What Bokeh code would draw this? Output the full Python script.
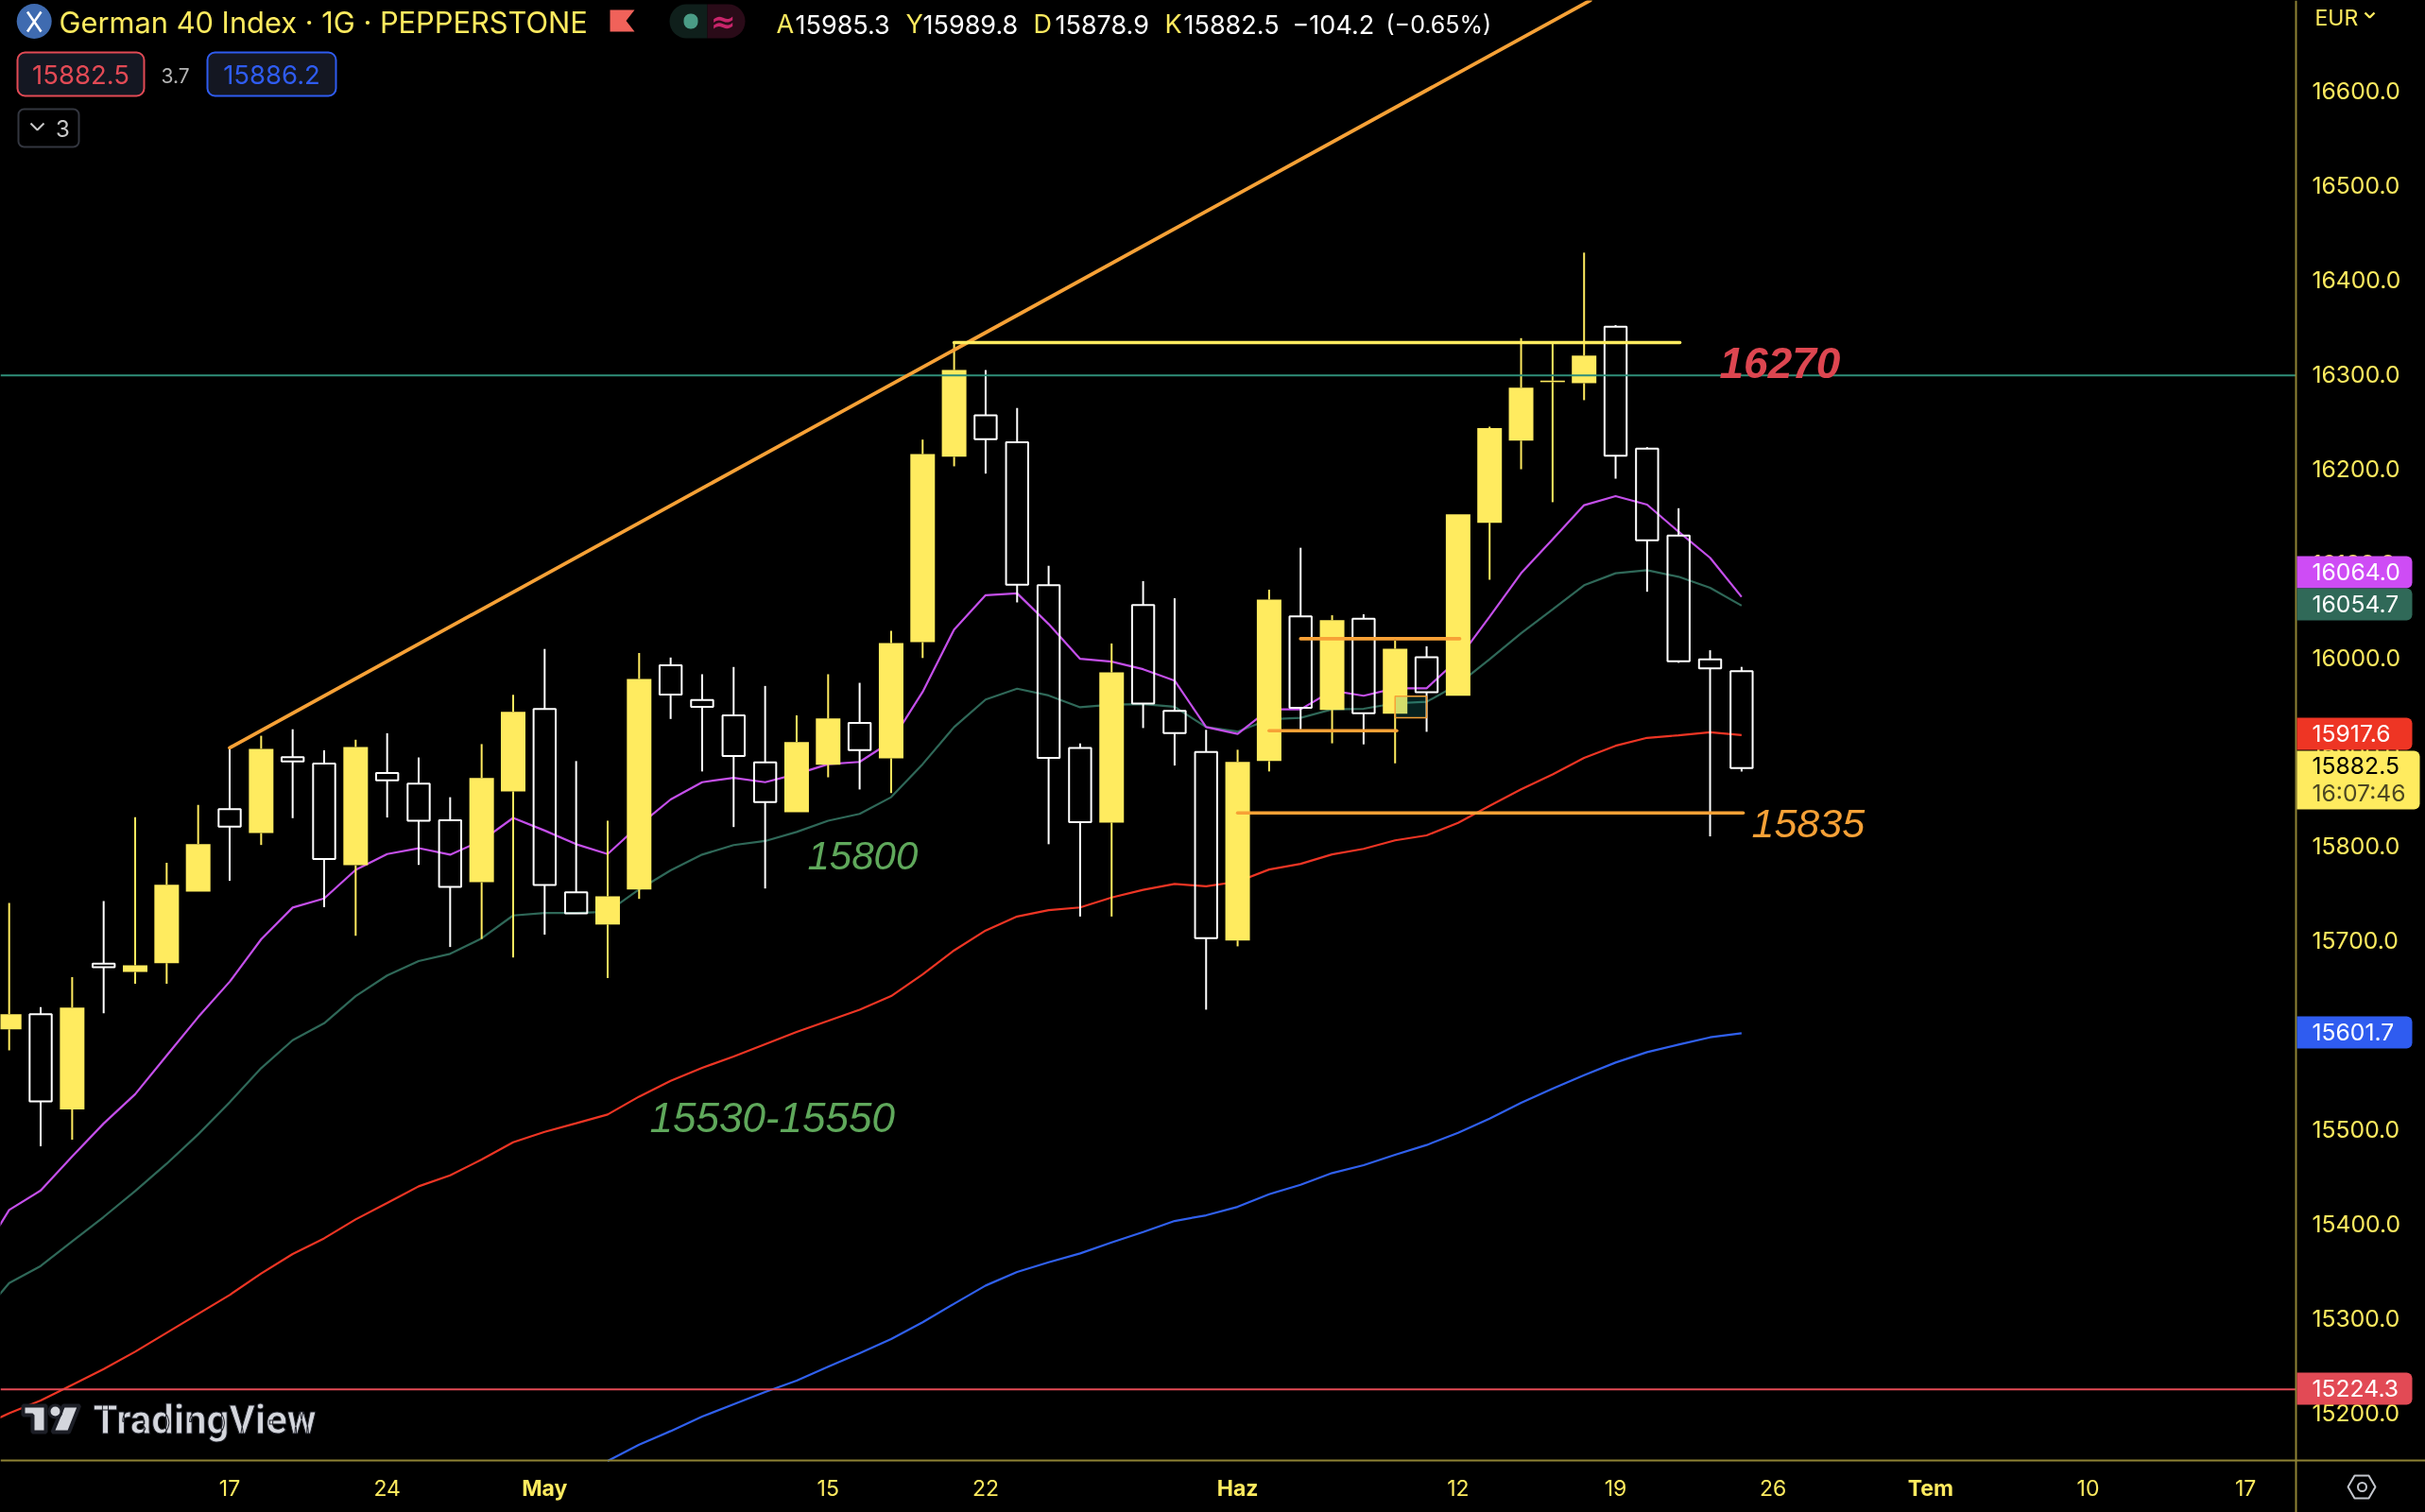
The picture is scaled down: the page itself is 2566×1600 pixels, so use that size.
from bokeh.plotting import figure
from bokeh.models import Range1d, LinearAxis, FixedTicker, NumeralTickFormatter
from bokeh.core.properties import value
from bokeh.embed import file_html
from bokeh.resources import INLINE

# ---------- data ----------
wick_high = [15739.8,15629.4,15661.2,15741.7,15830.6,15782.3,15843.6,15904.2,15916.8,15923.7,
             15901.5,15912.6,15919.5,15893.8,15851.7,15908.0,15960.2,16008.8,15890.0,15826.8,
             16004.5,15999.7,15982.0,15989.7,15969.6,15938.4,15982.0,15972.9,16028.0,16230.6,
             16333.0,16304.3,16264.1,16096.9,15908.7,16014.6,16080.7,16062.5,15923.1,15902.0,
             16071.6,16116.0,16044.5,16045.5,16017.5,16011.6,16151.5,16244.3,16338.1,16333.3,
             16428.7,16351.9,16222.6,16157.9,16007.4,15989.8]
body_top = [15621.8,15621.8,15628.7,15675.4,15673.5,15758.9,15801.9,15839.0,15903.0,15894.2,
            15887.3,15904.9,15877.4,15866.2,15827.2,15872.0,15942.1,15945.2,15750.9,15746.7,
            15977.0,15991.6,15954.7,15938.4,15888.6,15910.2,15935.1,15930.3,16015.0,16215.2,
            16304.3,16256.4,16227.7,16076.3,15903.9,15983.9,16055.3,15943.2,15899.6,15889.1,
            16061.0,16043.4,16039.2,16040.8,16009.0,16000.0,16151.5,16242.7,16285.6,16293.1,
            16319.6,16350.3,16221.0,16128.8,15997.8,15985.3]
body_bottom = [15605.7,15529.4,15521.0,15671.6,15666.6,15675.8,15751.7,15820.6,15813.7,15889.6,
               15786.2,15779.6,15869.7,15826.8,15756.6,15761.6,15857.8,15758.6,15728.7,15716.8,
               15754.0,15960.4,15947.5,15895.3,15846.5,15835.9,15886.2,15901.6,15892.9,16016.0,
               16212.4,16231.0,16076.8,15893.4,15825.4,15824.9,15950.9,15919.7,15702.3,15699.9,
               15890.0,15946.4,15944.3,15940.6,15940.1,15962.9,15959.2,16142.5,16229.5,16291.5,
               16290.4,16213.6,16124.0,15995.7,15988.3,15882.5]
wick_low = [15583.4,15481.9,15488.8,15622.9,15654.0,15654.0,15751.7,15763.2,15801.1,15829.5,
            15735.2,15704.9,15830.2,15780.0,15693.0,15701.5,15681.9,15706.1,15728.7,15660.1,
            15744.0,15934.6,15879.0,15820.1,15755.0,15835.9,15872.8,15859.9,15856.1,15999.2,
            16202.3,16194.6,16058.1,15801.9,15725.3,15725.3,15925.0,15885.3,15626.6,15693.7,
            15879.0,15923.7,15908.8,15907.7,15887.6,15921.0,15959.2,16082.1,16199.2,16164.3,
            16272.4,16189.2,16069.4,15994.1,15810.2,15878.9]
rising_bars = [0,2,4,5,6,8,11,15,16,19,20,25,26,28,29,30,35,39,40,42,44,46,47,48,49,50]

# moving averages, first value belongs to the bar before the first one
ma_purple = [15360,15414.4,15435,15471,15506,15537,15578,15618.7,15656.2,15701.1,15734.8,15744.4,
             15774.7,15791.5,15797.7,15790.8,15805.7,15829.8,15816.4,15801.9,15791.5,15822,15849.3,
             15867.6,15872.3,15867.6,15876.2,15886.7,15889.1,15910.6,15963.3,16029.4,16065.8,16067.7,
             16035.2,15998.3,15995.4,15987.3,15975.3,15926,15918.8,15944.8,15944.8,15964.5,15959.2,
             15967.1,15967.1,15997.8,16042.9,16089,16125,16161.1,16170.7,16161.7,16133,16105.4,16064.0]
ma_green = [15297,15337,15355,15381,15407,15434.4,15463.4,15494.5,15528.5,15564.6,15594.2,15612.2,
            15640.9,15662.8,15678.1,15685.8,15702.2,15726.4,15729.1,15729.1,15730.2,15754,15774.2,
            15790.9,15801,15805.3,15814.9,15826.8,15834,15851.7,15886.7,15926,15955.2,15966.7,
            15959.5,15947,15949.9,15950.4,15947.5,15926,15921.2,15934.2,15935.8,15944.8,15945.4,
            15951.2,15952.8,15971.3,15997.8,16025.4,16050.8,16076.3,16089,16092.2,16085.3,16073.6,16054.7]
ma_red = [15183,15199.1,15212.5,15229.1,15245.8,15264.2,15284.2,15304.2,15324.3,15347,15367.7,15384.3,
          15404.4,15421.7,15439.4,15451.1,15467.8,15486.1,15497.1,15506.2,15515.5,15534.5,15551.2,
          15565,15577,15590,15603,15614.7,15626.6,15641,15664,15689.4,15710.5,15725.3,15732,15734.9,
          15745.4,15753.6,15759.8,15757.4,15762.2,15775.1,15781.1,15791.1,15797,15806,15811.3,15824.5,
          15842.6,15860,15875.9,15893.4,15906.2,15914.6,15917.3,15920.5,15917.6]
ma_blue_first_bar = 19
ma_blue = [15148.4,15165.8,15180.1,15195.5,15208.5,15221.5,15233.5,15248.2,15262.5,15277.6,15295.3,
           15315,15334.3,15348.7,15359,15368.3,15380,15391,15402.7,15408.7,15417.7,15431.1,15441.1,
           15453.5,15461.8,15472.8,15483.2,15496.2,15511.2,15527.9,15542.9,15557.3,15570.6,15581.6,
           15589.6,15597.3,15601.7]

price_ticks = [15200,15300,15400,15500,15600,15700,15800,15900,16000,16100,16200,16300,16400,16500,16600]
day_ticks = {7:"17",12:"24",26:"15",31:"22",46:"12",51:"19",56:"26",66:"10",71:"17"}
month_ticks = {17:"May",39:"Haz",61:"Tem"}

level_teal = 16298.5
level_red = 15224.3
top_line = 16333.4
trend_start = (7, 15904)
trend_end = (50.2, 16696)
orange_levels = [(41,46.05,16019.6),(40,44.05,15922.1),(39,55.05,15835)]
small_box = (44,45,15935.8,15958.6)

# ---------- colours ----------
BG="#000000"; YEL="#FFEB5F"; WHT="#FFFFFF"; AXC="#8F8335"; ORG="#F7A136"
PUR="#C44FEA"; GRN="#2F6858"; RED="#EE3524"; BLU="#3060EE"; TEAL="#2F8F7A"; LRED="#E24A55"

# ---------- scales: one bar = 33.33 px, one price unit = 0.99875 px ----------
W,H = 2566,1600
def X(px): return (px-9.2)/33.33
def Y(py): return 16000-(py-695)*1.00125

p = figure(width=W,height=H,x_range=Range1d(X(0),X(W)),y_range=Range1d(Y(H),Y(0)),
           x_axis_type=None,y_axis_type=None,toolbar_location=None,output_backend="svg",
           background_fill_color=BG,border_fill_color=BG,outline_line_color=None,min_border=0)
p.grid.visible=False
p.styles={"position":"fixed","left":"0px","top":"0px","background-color":"#000000","box-shadow":"0 0 0 10px #000000"}

n=len(wick_high)
idx=list(range(n))
up=[i in rising_bars for i in idx]

# moving averages
ma_x=list(range(-1,n))
p.line(ma_x,ma_red,line_color=RED,line_width=2.2)
p.line(list(range(ma_blue_first_bar,n)),ma_blue,line_color=BLU,line_width=2.2)
p.line(ma_x,ma_green,line_color=GRN,line_width=2.2)
p.line(ma_x,ma_purple,line_color=PUR,line_width=2.2)

# candles
HW_F=13/33.33; HW_H=11.7/33.33
for flag,col in ((True,YEL),(False,WHT)):
    s=[i for i in idx if up[i]==flag]
    p.segment([i for i in s],[wick_high[i] for i in s],[i for i in s],[body_top[i] for i in s],line_color=col,line_width=2)
    p.segment([i for i in s],[body_bottom[i] for i in s],[i for i in s],[wick_low[i] for i in s],line_color=col,line_width=2)
s=[i for i in idx if up[i]]
p.quad(left=[i-HW_F for i in s],right=[i+HW_F for i in s],top=[body_top[i] for i in s],bottom=[body_bottom[i] for i in s],
       fill_color=YEL,line_color=None)
s=[i for i in idx if not up[i]]
p.quad(left=[i-HW_H for i in s],right=[i+HW_H for i in s],top=[body_top[i] for i in s],bottom=[body_bottom[i] for i in s],
       fill_color=None,line_color=WHT,line_width=2)

# drawings
p.segment([X(0)],[level_teal],[X(2429)],[level_teal],line_color=TEAL,line_width=2)
p.segment([X(0)],[level_red],[X(2429)],[level_red],line_color=LRED,line_width=2)
p.line([trend_start[0],trend_end[0]],[trend_start[1],trend_end[1]],line_color=ORG,line_width=3.8,line_cap="round")
p.segment([30],[top_line],[53.04],[top_line],line_color=YEL,line_width=3.6,line_cap="round")
p.segment([a for a,b,c in orange_levels],[c for a,b,c in orange_levels],[b for a,b,c in orange_levels],[c for a,b,c in orange_levels],
          line_color=ORG,line_width=3.6,line_cap="round")
p.quad(left=[small_box[0]],right=[small_box[1]],bottom=[small_box[2]],top=[small_box[3]],
       fill_color="#1FA39A",fill_alpha=0.2,line_color=ORG,line_width=1.5)

def ann(px,py,t,col,size,style="italic",font="Liberation Sans"):
    p.text([X(px)],[Y(py)],text=[t],text_color=col,text_font=value(font),text_font_size=f"{size}px",
           text_font_style=style,text_align="left",text_baseline="middle")
ann(1819,383,"16270","#DD4650",46,"bold italic")
ann(1853,871,"15835",ORG,43)
ann(854,905,"15800","#5FA85B",42)
ann(687,1182,"15530-15550","#5FA85B",44)

# ---------- axes ----------
AF="Inter"
ya=LinearAxis(fixed_location=X(2429),ticker=FixedTicker(ticks=price_ticks,minor_ticks=[]),
              formatter=NumeralTickFormatter(format="0.0"),major_tick_line_color=None,minor_tick_line_color=None,
              axis_line_color=AXC,axis_line_width=2,major_label_text_color=YEL,major_label_text_font=AF,
              major_label_text_font_size="24.7px",major_label_standoff=11)
p.add_layout(ya,"right")
xa=LinearAxis(fixed_location=Y(1545),ticker=FixedTicker(ticks=list(day_ticks),minor_ticks=[]),
              major_label_overrides=day_ticks,major_tick_line_color=None,minor_tick_line_color=None,
              axis_line_color=AXC,axis_line_width=2,major_label_text_color=YEL,major_label_text_font=AF,
              major_label_text_font_size="23px",major_label_standoff=14)
p.add_layout(xa,"below")
xm=LinearAxis(fixed_location=Y(1545),ticker=FixedTicker(ticks=list(month_ticks),minor_ticks=[]),
              major_label_overrides=month_ticks,major_tick_line_color=None,minor_tick_line_color=None,
              axis_line_color=None,major_label_text_color=YEL,major_label_text_font=AF,major_label_text_font_style="bold",
              major_label_text_font_size="23px",major_label_standoff=9)
p.add_layout(xm,"below")

# ---------- price tags over the axis ----------
def rrect(x0,x1,y0,y1,fill,line=None,lw=2,r=0):
    p.quad(left=[X(x0)],right=[X(x1)],top=[Y(y0)],bottom=[Y(y1)],fill_color=fill,line_color=line,line_width=lw,
           border_radius=r,level="overlay")
def txt(px,py,t,col,size,align="left",style="normal",font=AF,**kw):
    p.text([X(px)],[Y(py)],text=[t],text_color=col,text_font=value(font),text_font_size=f"{size}px",
           text_font_style=style,text_align=align,text_baseline="middle",level="overlay",**kw)
def poly(points,col,lw=2):
    p.line([X(a) for a,b in points],[Y(b) for a,b in points],line_color=col,line_width=lw,level="overlay")
def shape(points,fill,line=None,lw=2):
    p.patch([X(a) for a,b in points],[Y(b) for a,b in points],fill_color=fill,line_color=line,line_width=lw,level="overlay")

tags=[("16064.0",588,622,"#CE4CF5"),("16054.7",622,656,"#306958"),("15917.6",759,793,"#EE3524"),
      ("15601.7",1075,1109,"#2F5CF0"),("15224.3",1452,1486,LRED)]
for t,a,b,c in tags:
    rrect(2430,2552,a,b,c,r=(0,6,6,0))
    txt(2446,(a+b)/2-1,t,WHT,24.7)
rrect(2430,2560,794,856,YEL,r=(0,6,6,0))
txt(2446,809,"15882.5","#000000",24.7)
txt(2446,838,"16:07:46","#4C4722",24.7)

# ---------- header ----------
p.scatter([X(35.7)],[Y(22)],size=37,marker="circle",fill_color="#3F6BB0",line_color=None,level="overlay")
p.segment([X(28.5),X(43)],[Y(12),Y(12)],[X(43),X(28.5)],[Y(33),Y(33)],line_color=WHT,line_width=2.6,level="overlay")
txt(62,23,"German 40 Index · 1G · PEPPERSTONE",YEL,30.8)
shape([(645,10),(671,10),(662,21.5),(671,33),(645,33)],"#F0625A")
rrect(708,748,4,40,"#0F1F1B",r=(18,0,0,18))
rrect(748,788,4,40,"#2A0B18",r=(0,18,18,0))
rrect(723,738,14,30,"#4A9C86",r=7)
txt(765,22,"≈","#C7256A",32,"center",style="bold",font="DejaVu Sans")
for x,t,c,s_ in [(821,"A",YEL,27),(841,"15985.3",WHT,27),(958,"Y",YEL,27),(976,"15989.8",WHT,27),(1093,"D",YEL,27),(1116,"15878.9",WHT,27),
                 (1232,"K",YEL,27),(1252,"15882.5",WHT,27),(1367,"−104.2",WHT,27),(1466,"(−0.65%)",WHT,25)]:
    txt(x,25,t,c,s_)
rrect(18,152,55,101,"#141722",LRED,2,8)
txt(85,78,"15882.5",LRED,27.5,"center")
txt(185,79,"3.7","#B4B4B4",21,"center")
rrect(219,355,55,101,"#141722","#2F5CF0",2,8)
txt(287,78,"15886.2","#2F5CF0",27.5,"center")
rrect(19,83,115,155,"#000000","#33363F",2,6)
poly([(32,130),(39,137),(46,130)],"#C8C8C8",2)
txt(66,135,"3","#C8C8C8",24,"center")
txt(2449,18,"EUR",YEL,23)
poly([(2502,13),(2507,18),(2512,13)],YEL,2.4)

# ---------- watermark ----------
HALO="#1C1E26"
shape([(24,1487),(48,1487),(48,1515),(34,1515),(34,1497),(24,1497)],"#D4D6DC",HALO,4)
shape([(66.6,1487),(83.6,1487),(72.5,1515),(55,1515)],"#D4D6DC",HALO,4)
p.scatter([X(58)],[Y(1493)],size=13,marker="circle",fill_color="#D4D6DC",line_color=HALO,line_width=3,level="overlay")
txt(98,1502,"TradingView","#D4D6DC",42,style="bold",font="Roboto",text_outline_color=HALO)

# ---------- settings icon ----------
shape([(2484,1573),(2491,1561),(2506,1561),(2513,1573),(2506,1585),(2491,1585)],None,"#C4C7CE",2)
p.scatter([X(2499)],[Y(1573)],size=9,marker="circle",fill_color=None,line_color="#C4C7CE",line_width=2,level="overlay")

open("out.html","w").write(file_html(p,INLINE))
